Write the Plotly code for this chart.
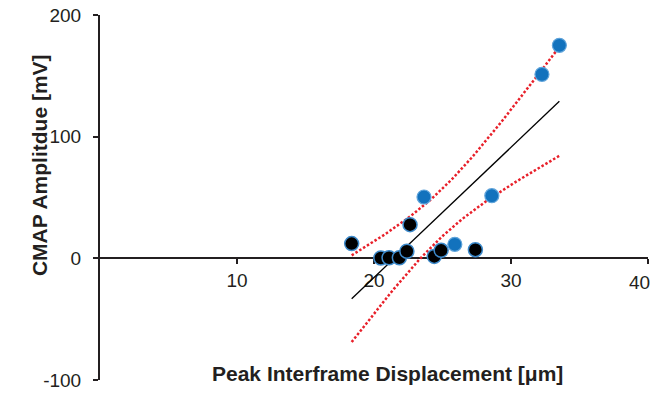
import numpy as np
import plotly.graph_objects as go

# Data
black_x = [18.37, 20.5, 21.1, 21.85, 22.4, 22.63, 24.4, 24.9, 27.4]
black_y = [12.1, 0.3, 0.5, 0.5, 5.8, 27.7, 1.6, 6.6, 7.1]
blue_x = [23.65, 28.6, 25.9, 32.26, 33.53]
blue_y = [50.4, 51.5, 11.5, 151.2, 175.1]

x_ticks = [10, 20, 30, 40]
x_tick_text = ["10", "20", "30", "40"]
y_ticks = [-100, 0, 100, 200]
y_tick_text = ["-100", "0", "100", "200"]

# Linear fit with 95% confidence band (derived from the data)
all_x = np.array(black_x + blue_x)
all_y = np.array(black_y + blue_y)
n = len(all_x)
slope, intercept = np.polyfit(all_x, all_y, 1)
resid = all_y - (slope * all_x + intercept)
s = np.sqrt(np.sum(resid ** 2) / (n - 2))
t_crit = 2.1788  # t(0.975, df=12)
xm = all_x.mean()
sxx = np.sum((all_x - xm) ** 2)
gx = np.linspace(all_x.min(), all_x.max(), 60)
gy = slope * gx + intercept
half = t_crit * s * np.sqrt(1.0 / n + (gx - xm) ** 2 / sxx)

fig = go.Figure()
red = "#E8202A"
fig.add_trace(go.Scatter(x=gx, y=gy + half, mode="lines",
                         line=dict(color=red, width=2.5, dash="2.5px,2px"), showlegend=False))
fig.add_trace(go.Scatter(x=gx, y=gy - half, mode="lines",
                         line=dict(color=red, width=2.5, dash="2.5px,2px"), showlegend=False))
fig.add_trace(go.Scatter(x=[all_x.min(), all_x.max()],
                         y=[slope * all_x.min() + intercept, slope * all_x.max() + intercept],
                         mode="lines", line=dict(color="black", width=1.3), showlegend=False))
fig.add_trace(go.Scatter(x=blue_x, y=blue_y, mode="markers",
                         marker=dict(size=14, color="#1272BD", line=dict(color="#5EA3DA", width=1.2)),
                         showlegend=False))
fig.add_trace(go.Scatter(x=black_x, y=black_y, mode="markers",
                         marker=dict(size=14, color="black", line=dict(color="#3D8ACB", width=1.5)),
                         showlegend=False))

font_color = "#231F20"
# last x tick label is drawn as an annotation nudged left so it stays inside the page
shown_x_text = x_tick_text[:-1] + [""]
fig.update_layout(
    width=655, height=395,
    margin=dict(l=100, r=7, t=15, b=15, autoexpand=False),
    paper_bgcolor="white", plot_bgcolor="white",
    font=dict(family="Liberation Sans, Arial", color=font_color),
    xaxis=dict(range=[0, 40], tickvals=x_ticks, ticktext=shown_x_text, ticks="outside",
               ticklen=5, tickwidth=1.5, automargin=False, ticklabeloverflow="allow",
               tickcolor="#231F20", showline=True, linecolor="#231F20", linewidth=1.5,
               showgrid=False, zeroline=False, anchor="free", position=1/3,
               tickfont=dict(size=19, color="#231F20"), layer="below traces"),
    yaxis=dict(range=[-100, 200], tickvals=y_ticks, ticktext=y_tick_text, ticks="outside",
               ticklen=5, tickwidth=1.5, automargin=False, ticklabeloverflow="allow",
               tickcolor="#231F20", showline=True, linecolor="#231F20", linewidth=2,
               showgrid=False, zeroline=False, ticklabelstandoff=8,
               tickfont=dict(size=19, color="#231F20"), layer="below traces"),
    annotations=[
        dict(text="<b>Peak Interframe Displacement [μm]</b>", xref="paper", yref="paper",
             x=0.524, y=0.019, xanchor="center", yanchor="middle", showarrow=False,
             font=dict(size=21, color=font_color)),
        dict(text="<b>CMAP Amplitdue [mV]</b>", xref="paper", yref="paper",
             x=-0.110, y=0.588, xanchor="center", yanchor="middle", showarrow=False,
             textangle=-90, font=dict(size=21, color=font_color)),
        dict(text=x_tick_text[-1], xref="x", yref="y", x=x_ticks[-1], y=0,
             xanchor="right", yanchor="middle", xshift=4, yshift=-24, showarrow=False,
             font=dict(size=19, color=font_color)),
    ],
)

fig.write_html("out.html", config={"displayModeBar": False},
               post_script="document.body.style.margin='0';document.body.style.overflow='hidden';")
